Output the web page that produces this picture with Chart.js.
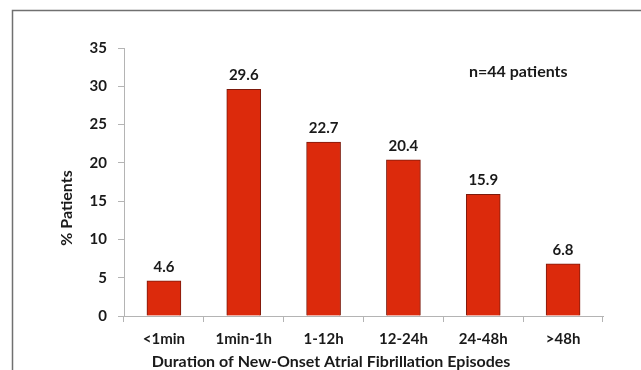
<!DOCTYPE html>
<html>
<head>
<meta charset="utf-8">
<script src="https://cdn.jsdelivr.net/npm/chart.js@4/dist/chart.umd.min.js"></script>
<style>
  html, body { margin: 0; padding: 0; background: #fff; }
  #wrap { position: relative; width: 641px; height: 370px; }
</style>
</head>
<body>
<div id="wrap"><canvas id="c" width="641" height="370"></canvas></div>
<script>
// Share of patients by duration of new-onset AF episodes
const categories = ['<1min', '1min-1h', '1-12h', '12-24h', '24-48h', '>48h'];
const percentPatients = [4.6, 29.6, 22.7, 20.4, 15.9, 6.8];
const yTicks = [0, 5, 10, 15, 20, 25, 30, 35];

const FONT = 'Lato, "Open Sans", sans-serif';
const INK = '#1a1a1a';
const AXIS = '#b4b4b4';

const decor = {
  id: 'decor',
  beforeDraw(chart) {
    const ctx = chart.ctx;
    ctx.save();
    ctx.fillStyle = '#fff';
    ctx.fillRect(0, 0, chart.width, chart.height);
    // frame lines along the top and left edges
    ctx.strokeStyle = '#707070';
    ctx.lineWidth = 1.5;
    ctx.beginPath();
    ctx.moveTo(12.5, chart.height);
    ctx.lineTo(12.5, 10.5);
    ctx.lineTo(chart.width, 10.5);
    ctx.stroke();
    ctx.restore();
  },
  afterDatasetsDraw(chart) {
    const ctx = chart.ctx;
    const meta = chart.getDatasetMeta(0);
    ctx.save();
    ctx.fillStyle = INK;
    ctx.font = 'bold 15px ' + FONT;
    ctx.textAlign = 'center';
    ctx.textBaseline = 'middle';
    meta.data.forEach((bar, i) => {
      ctx.fillText(percentPatients[i].toFixed(1), bar.x, bar.y - 14);
    });
    // sample size note
    ctx.font = 'bold 16px ' + FONT;
    ctx.textAlign = 'left';
    ctx.fillText('n=44 patients', 469, 72);
    // axis titles
    ctx.textAlign = 'center';
    ctx.fillText('Duration of New-Onset Atrial Fibrillation Episodes', 331, 362);
    ctx.translate(67, 208);
    ctx.rotate(-Math.PI / 2);
    ctx.fillText('% Patients', 0, 0);
    ctx.restore();
  }
};

new Chart(document.getElementById('c'), {
  type: 'bar',
  data: {
    labels: categories,
    datasets: [{
      data: percentPatients,
      backgroundColor: '#dc2a0c',
      borderColor: '#7c1a0c',
      borderWidth: 1,
      barThickness: 34
    }]
  },
  options: {
    responsive: false,
    animation: false,
    events: [],
    layout: { padding: { left: 0, top: 48, right: 38, bottom: 0 } },
    plugins: { legend: { display: false }, tooltip: { enabled: false } },
    scales: {
      x: {
        grid: { offset: true, drawOnChartArea: false, drawTicks: true, tickLength: 6, color: AXIS },
        border: { color: AXIS, width: 1 },
        ticks: { color: INK, font: { family: FONT, size: 15, weight: 'bold' }, padding: 8 },
        afterFit(scale) { scale.height = 54; }
      },
      y: {
        min: 0,
        max: 35,
        afterBuildTicks(scale) { scale.ticks = yTicks.map(v => ({ value: v })); },
        grid: { drawOnChartArea: false, drawTicks: true, tickLength: 6, color: AXIS },
        border: { color: AXIS, width: 1 },
        ticks: { color: INK, font: { family: FONT, size: 15, weight: 'bold' }, padding: 11 },
        afterFit(scale) { scale.width = 124; }
      }
    }
  },
  plugins: [decor]
});
</script>
</body>
</html>
